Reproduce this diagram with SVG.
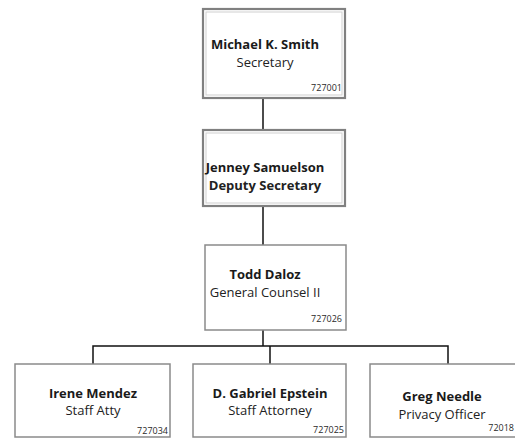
<svg xmlns="http://www.w3.org/2000/svg" width="515" height="442" viewBox="0 0 515 442">
<style>
.bg{fill:#ffffff}
.box{fill:#ffffff;stroke:#8a8a8a;stroke-width:1.5}
.boxb{fill:#ffffff;stroke:#808080;stroke-width:2.2}
.inner{fill:none;stroke:#cfcfcf;stroke-width:1}
.name{font-family:"Open Sans","Noto Sans",sans-serif;font-weight:bold;font-size:13px;fill:#1a1a1a;text-anchor:middle}
.title{font-family:"Open Sans","Noto Sans",sans-serif;font-size:13px;fill:#222222;text-anchor:middle}
.tb{font-weight:bold}
.num{font-family:"Open Sans","Noto Sans",sans-serif;font-size:9px;fill:#2a2a2a;text-anchor:end}
.conn{fill:none;stroke:#111111;stroke-width:1.5}
</style>
<rect class="bg" x="0" y="0" width="515" height="442"/>
<g id="connectors">
<path class="conn" d="M263 98 V130"/>
<path class="conn" d="M263 206 V245"/>
<path class="conn" d="M263 330 V346"/>
<path class="conn" d="M93 364 V346 H448 V364"/>
<path class="conn" d="M270 346 V364"/>
</g>
<g id="michael">
<rect class="boxb" x="203" y="9" width="142" height="89"/>
<rect class="inner" x="206" y="12" width="136" height="83"/>
<text class="name" x="265" y="49">Michael K. Smith</text>
<text class="title" x="265" y="67">Secretary</text>
<text class="num" x="342" y="91">727001</text>
</g>
<g id="jenney">
<rect class="boxb" x="203" y="130" width="142" height="76"/>
<rect class="inner" x="206" y="133" width="136" height="70"/>
<text class="name" x="265" y="172">Jenney Samuelson</text>
<text class="title tb" x="265" y="190">Deputy Secretary</text>
</g>
<g id="todd">
<rect class="box" x="205" y="245" width="141" height="85"/>
<text class="name" x="265" y="279">Todd Daloz</text>
<text class="title" x="265" y="297">General Counsel II</text>
<text class="num" x="342" y="322">727026</text>
</g>
<g id="irene">
<rect class="box" x="15" y="364" width="155" height="73"/>
<text class="name" x="93" y="398">Irene Mendez</text>
<text class="title" x="93" y="415">Staff Atty</text>
<text class="num" x="168" y="434">727034</text>
</g>
<g id="gabriel">
<rect class="box" x="193" y="364" width="153" height="73"/>
<text class="name" x="270" y="398">D. Gabriel Epstein</text>
<text class="title" x="270" y="415">Staff Attorney</text>
<text class="num" x="344" y="433">727025</text>
</g>
<g id="greg">
<rect class="box" x="370" y="364" width="150" height="73"/>
<text class="name" x="442" y="401">Greg Needle</text>
<text class="title" x="442" y="419">Privacy Officer</text>
<text class="num" x="514" y="431">72018</text>
</g>
</svg>
